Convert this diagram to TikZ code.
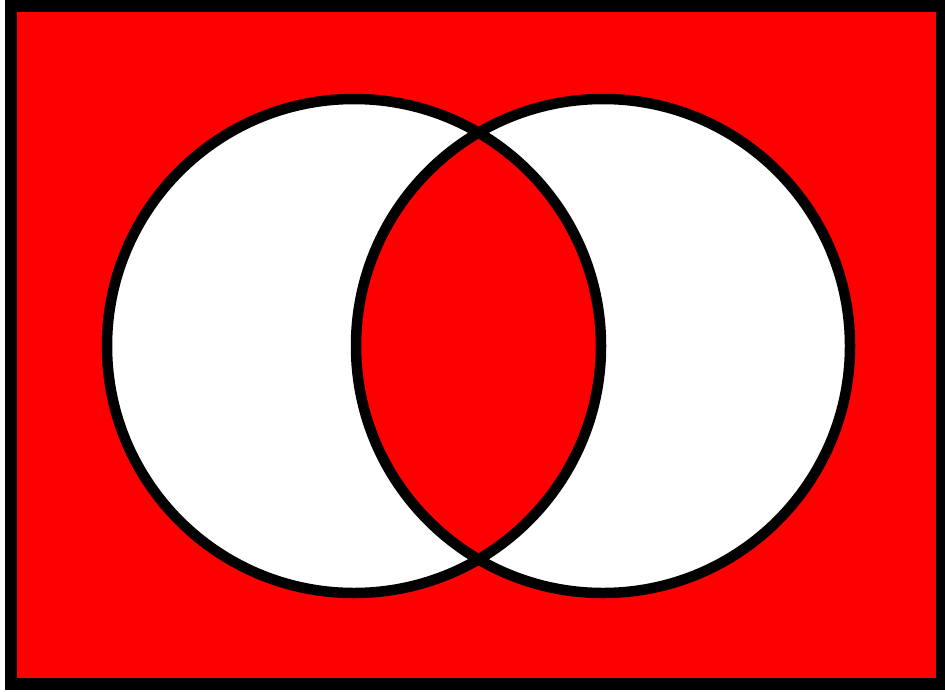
\documentclass[tikz,border=0pt]{standalone}
\usepackage{tikz}
\begin{document}
\begin{tikzpicture}[x=1pt,y=-1pt,
  frame/.style={draw=black,line width=12pt,fill=red},
  setcircle/.style={draw=black,line width=10.5pt}]
\useasboundingbox (0,0) rectangle (945,691);
\fill[white] (0,0) rectangle (945,691);
% universe
\draw[frame] (11,6) rectangle (942,684);
% circles fill
\fill[white] (354,346) circle[radius=247];
\fill[white] (603,346) circle[radius=247];
% intersection
\begin{scope}
  \clip (354,346) circle[radius=247];
  \fill[red] (603,346) circle[radius=247];
\end{scope}
% outlines
\draw[setcircle] (354,346) circle[radius=247];
\draw[setcircle] (603,346) circle[radius=247];
\end{tikzpicture}
\end{document}
